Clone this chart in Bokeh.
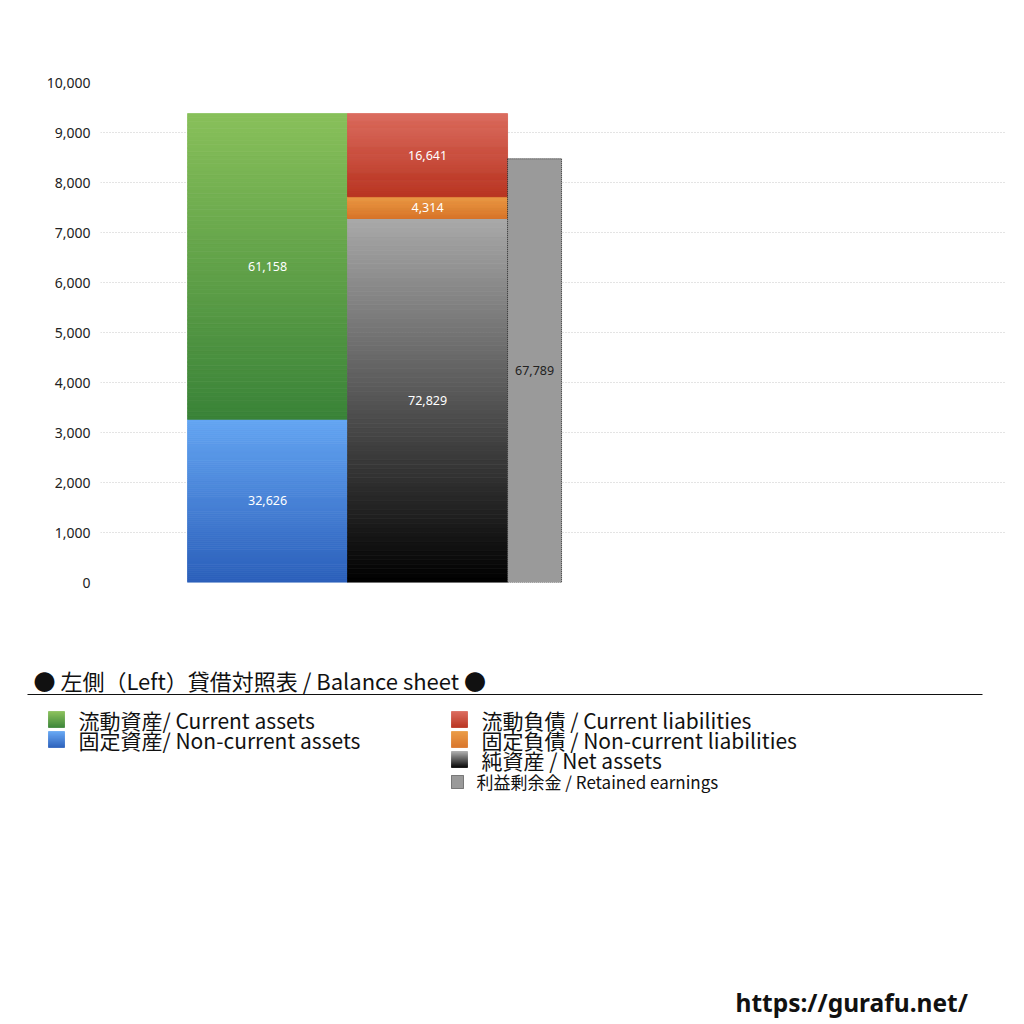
import numpy as np
from bokeh.plotting import figure
from bokeh.models import Range1d, NumeralTickFormatter, FixedTicker
from bokeh.core.properties import value
from bokeh.embed import file_html
from bokeh.resources import INLINE

# values as printed on the bars
asset_names = ["固定資産/ Non-current assets", "流動資産/ Current assets"]
asset_values = [32626, 61158]
liab_names = ["純資産 / Net assets", "固定負債 / Non-current liabilities", "流動負債 /  Current liabilities"]
liab_values = [72829, 4314, 16641]
retained_name = "利益剰余金 / Retained earnings"
retained_value = 67789
retained_height = 8475  # height as drawn on the axis
axis_div = 10  # axis is shown in units of 10
y_ticks = list(range(0, 10001, 1000))

asset_colors = [("#64a5f2", "#2b5fba"), ("#88c05a", "#3a8338")]
liab_colors = [("#a9a9a9", "#000000"), ("#ea9a45", "#d8742a"), ("#da6a5c", "#b8321f")]

JP = "Noto Sans CJK JP"


def hex2rgb(h):
    return np.array([int(h[i:i + 2], 16) for i in (1, 3, 5)], dtype=float)


def grad_quads(p, left, right, bottom, top, c_top, c_bot, n=80, **kw):
    edges = np.linspace(bottom, top, n + 1)
    t = (np.arange(n) + 0.5) / n
    a, b = hex2rgb(c_bot), hex2rgb(c_top)
    cols = ["#%02x%02x%02x" % tuple(int(round(v)) for v in a + (b - a) * k) for k in t]
    p.quad(left=[left] * n, right=[right] * n, bottom=edges[:-1], top=edges[1:],
           fill_color=cols, line_color=cols, line_width=0.8, **kw)


p = figure(width=1016, height=1024, output_backend="svg", toolbar_location=None,
           x_range=Range1d(-0.544, 5.112), y_range=Range1d(0, 10000),
           min_border_left=100, min_border_right=11, min_border_top=82, min_border_bottom=442)
p.outline_line_color = None
p.xaxis.visible = False
p.xgrid.visible = False
p.ygrid.grid_line_color = "#c8c8c8"
p.ygrid.grid_line_dash = "1 2"
p.yaxis.ticker = FixedTicker(ticks=y_ticks)
p.yaxis.formatter = NumeralTickFormatter(format="0,0")
p.yaxis.axis_line_color = None
p.yaxis.major_tick_line_color = None
p.yaxis.minor_tick_line_color = None
p.yaxis.major_tick_out = 0
p.yaxis.major_tick_in = 0
p.yaxis.major_label_text_font = "Noto Sans"
p.yaxis.major_label_text_font_size = "14px"
p.yaxis.major_label_text_color = "#222222"
p.yaxis.major_label_standoff = 10

# assets column
base = 0
lab_x, lab_y, lab_t = [], [], []
for v, (ct, cb) in zip(asset_values, asset_colors):
    h = v / axis_div
    grad_quads(p, 0, 1, base, base + h, ct, cb)
    lab_x.append(0.5)
    lab_y.append(base + h / 2)
    lab_t.append(f"{v:,}")
    base += h

# liabilities + net assets column
base = 0
for v, (ct, cb) in zip(liab_values, liab_colors):
    h = v / axis_div
    grad_quads(p, 1, 2, base, base + h, ct, cb)
    lab_x.append(1.5)
    lab_y.append(base + h / 2)
    lab_t.append(f"{v:,}")
    base += h

p.text(lab_x, lab_y, lab_t, text_align="center", text_baseline="middle",
       text_color="white", text_font=value("Noto Sans"), text_font_size="12.5px")

# retained earnings
p.quad(left=[2], right=[2.3375], bottom=[0], top=[retained_height],
       fill_color="#9a9a9a", line_color="#222222", line_dash="1 1", line_width=1)
p.text([2.16875], [retained_height / 2], [f"{retained_value:,}"], text_align="center",
       text_baseline="middle", text_color="#222222", text_font=value("Noto Sans"),
       text_font_size="12.5px")

# legend area below the plot, in page pixel coordinates
p.extra_x_ranges["px"] = Range1d(100, 1005)
p.extra_y_ranges["px"] = Range1d(582, 82)
PX = dict(x_range_name="px", y_range_name="px", level="overlay")

p.text([33], [679], ["● 左側（Left）貸借対照表 / Balance sheet ●"], text_baseline="middle",
       text_font=value(JP), text_font_size="22px", text_color="#111111", **PX)
p.segment(x0=[27], y0=[694], x1=[982], y1=[694], line_color="#111111", line_width=1, **PX)

leg_items = [
    (48, 719, asset_names[1], asset_colors[1]),
    (48, 739, asset_names[0], asset_colors[0]),
    (451, 719, liab_names[2], liab_colors[2]),
    (451, 739, liab_names[1], liab_colors[1]),
    (451, 759, liab_names[0], liab_colors[0]),
]
for x, y, name, (ct, cb) in leg_items:
    grad_quads(p, x, x + 16, y + 8, y - 8, ct, cb, n=16, **PX)
    p.text([x + 30], [y], [name], text_baseline="middle", text_font=value(JP),
           text_font_size="21px", text_color="#111111", **PX)

p.quad(left=[451], right=[463], bottom=[788], top=[775], fill_color="#9a9a9a",
       line_color="#222222", line_dash="1 1", line_width=1, **PX)
p.text([476], [781], [retained_name], text_baseline="middle", text_font=value(JP),
       text_font_size="17px", text_color="#111111", **PX)

p.text([735], [1002], ["https://gurafu.net/"], text_baseline="middle",
       text_font=value("Noto Sans"), text_font_style="bold", text_font_size="24.5px",
       text_color="#111111", **PX)

open("out.html", "w").write(file_html(p, INLINE))
